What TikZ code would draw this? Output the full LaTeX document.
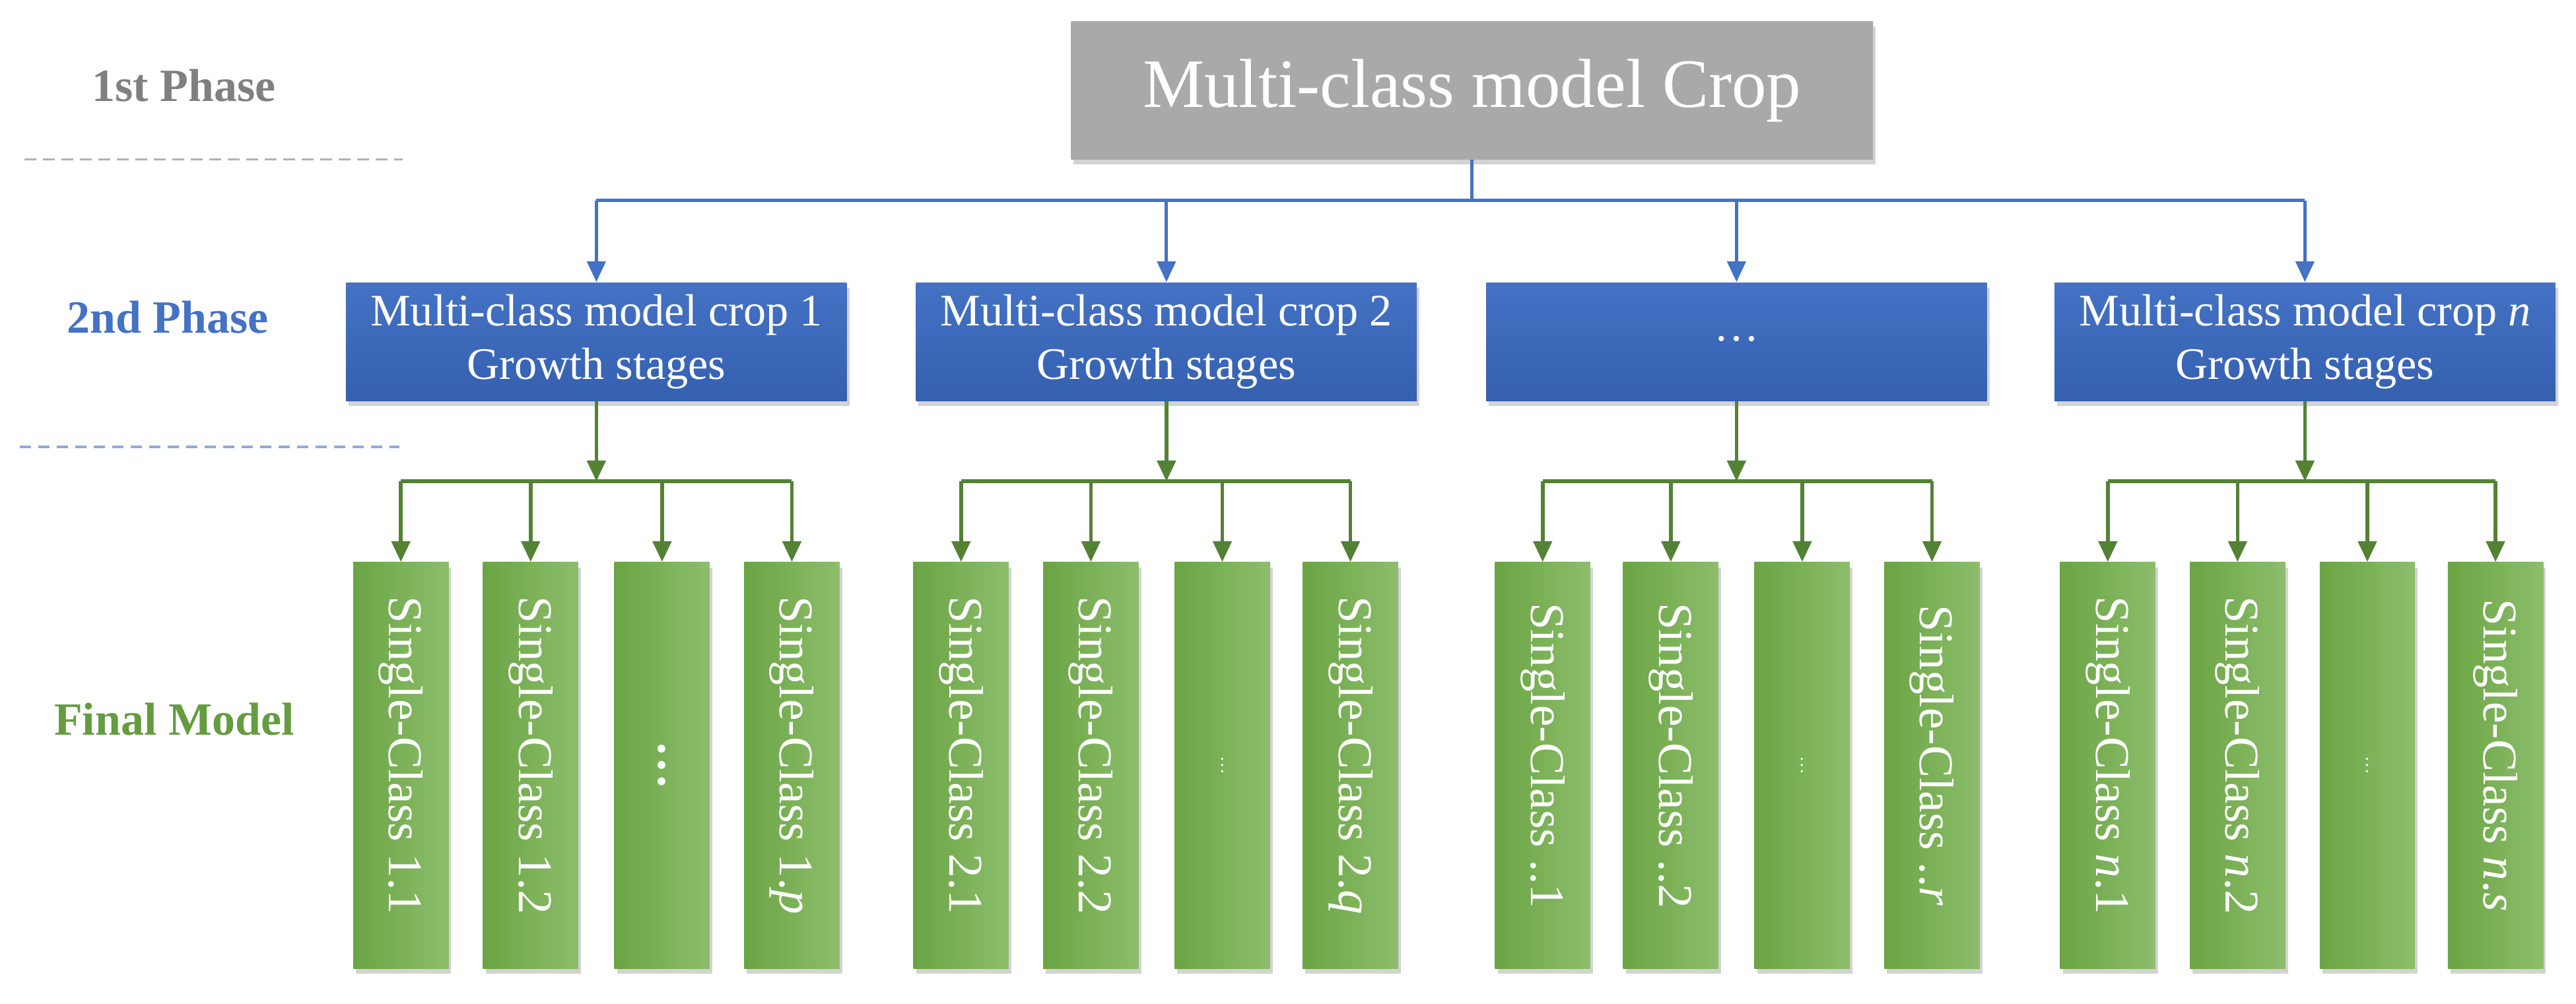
\documentclass[tikz,border=0pt]{standalone}
\usepackage{fontspec}
\setmainfont{Liberation Serif}
\usetikzlibrary{shadows,arrows.meta}
\definecolor{bl}{HTML}{4472C4}
\definecolor{bld}{HTML}{3560B0}
\definecolor{gr}{HTML}{70AD47}
\definecolor{grd}{HTML}{548235}
\definecolor{gy}{HTML}{9A9A9A}
\begin{document}
\begin{tikzpicture}[x=0.025cm,y=-0.025cm,
  sh/.style={drop shadow={shadow xshift=0.4mm,shadow yshift=-0.8mm,opacity=0.35}},
  top/.style={sh,top color=gy!85,bottom color=gy!110!black,minimum width=12.2cm,minimum height=2.1cm,text=white,font=\fontsize{30}{34}\selectfont,inner sep=0},
  mid/.style={sh,top color=bl,bottom color=bld,minimum width=7.62cm,minimum height=1.8cm,text=white,align=center,font=\fontsize{19.5}{23}\selectfont,inner sep=0},
  leaf/.style={sh,left color=gr!95!black,right color=gr!80!white,minimum width=1.45cm,minimum height=6.18cm,inner sep=0},
  ltxt/.style={rotate=-90,text=white,font=\fontsize{21}{24}\selectfont},
  barr/.style={draw=bl,line width=1.4pt,-{Triangle[length=9pt,width=8pt]}},
  garr/.style={draw=grd,line width=1.6pt,-{Triangle[length=9pt,width=8pt]}},
  phase/.style={font=\bfseries\fontsize{20}{24}\selectfont}]
\useasboundingbox (0,0) rectangle (1568,611);
\node[phase,text=gray] (p1) at (112,52) {1st Phase};
\node[phase,text=bl] (p2) at (102,193) {2nd Phase};
\node[phase,text=gr!90!black] (p3) at (106,438) {Final Model};
\draw[gray!60,dashed,line width=1pt,dash pattern=on 5pt off 3pt] (15,97) -- (245,97);
\draw[bl!60,dashed,line width=1pt,dash pattern=on 5pt off 3pt] (12,272) -- (243,272);
\node[top] (T) at (896,55) {Multi-class model Crop};
\node[mid] (m1) at (363,208) {Multi-class model crop 1\\Growth stages};
\node[mid] (m2) at (710,208) {Multi-class model crop 2\\Growth stages};
\node[mid] (m3) at (1057,208) {\raisebox{0.3ex}{\dots}};
\node[mid] (m4) at (1403,208) {Multi-class model crop \textit{n}\\Growth stages};
\coordinate (bj) at (896,122);
\draw[bl,line width=1.4pt] (T.south) -- (bj);
\draw[bl,line width=1.4pt] (m1.north |- bj) -- (m4.north |- bj);
\foreach \m in {m1,m2,m3,m4}{\draw[barr] (\m.north |- bj) -- (\m.north);}
\def\leafrow#1#2#3#4#5#6#7#8#9{%
  \node[leaf] (#1a) at (#2,466) {}; \node[ltxt] at ([yshift=0.15cm]#1a) {#6};
  \node[leaf] (#1b) at (#3,466) {}; \node[ltxt] at ([yshift=0.15cm]#1b) {#7};
  \node[leaf] (#1c) at (#4,466) {}; \node[ltxt] at (#1c) {#8};
  \node[leaf] (#1d) at (#5,466) {}; \node[ltxt] at ([yshift=0.15cm]#1d) {#9};
}
\leafrow{g1}{244}{323}{403}{482}{Single-Class 1.1}{Single-Class 1.2}{\textbf{\dots}}{Single-Class 1.\textit{p}}
\leafrow{g2}{585}{664}{744}{822}{Single-Class 2.1}{Single-Class 2.2}{\footnotesize\dots}{Single-Class 2.\textit{q}}
\leafrow{g3}{939}{1017}{1097}{1176}{Single-Class ..1}{Single-Class ..2}{\footnotesize\dots}{Single-Class ..\textit{r}}
\leafrow{g4}{1283}{1362}{1441}{1519}{Single-Class \textit{n}.1}{Single-Class \textit{n}.2}{\footnotesize\dots}{Single-Class \textit{n}.\textit{s}}
\foreach \g/\m in {g1/m1,g2/m2,g3/m3,g4/m4}{
  \coordinate (\g j) at (\m.south |- 0,293);
  \draw[garr] (\m.south) -- (\g j);
  \draw[grd,line width=1.6pt] (\g a.north |- \g j) -- (\g d.north |- \g j);
  \foreach \k in {a,b,c,d}{\draw[garr] (\g\k.north |- \g j) -- (\g\k.north);}
}
\end{tikzpicture}
\end{document}
